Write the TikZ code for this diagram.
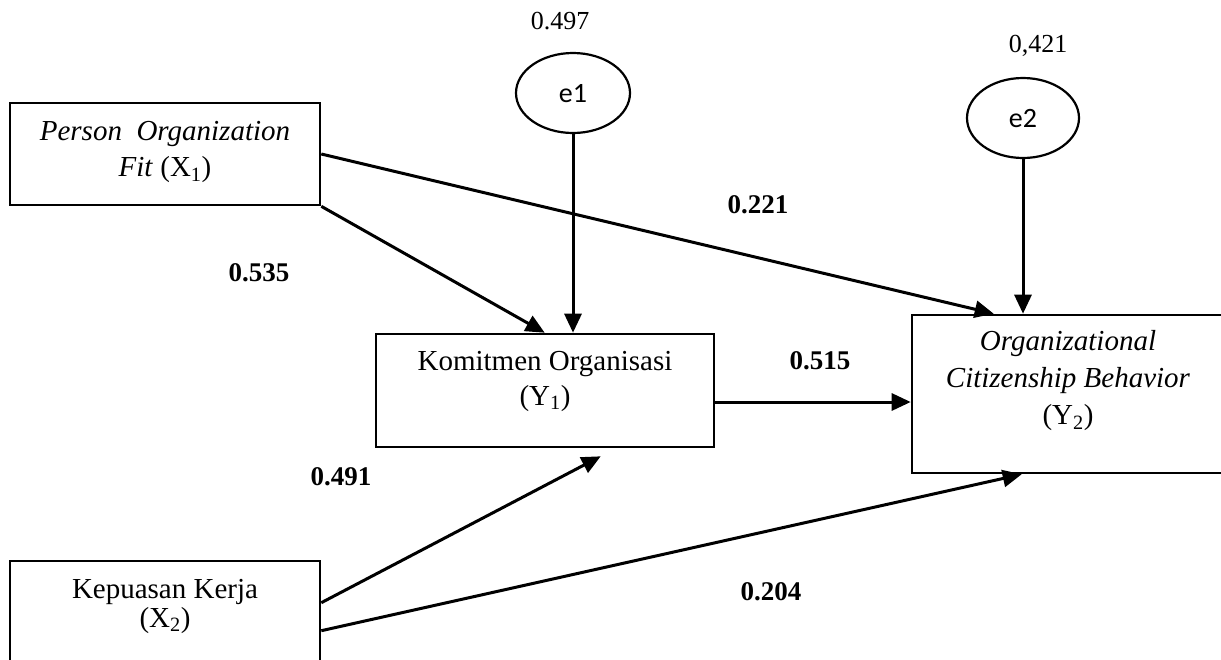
\documentclass[tikz,border=0pt]{standalone}
\usepackage{fontspec}
\setmainfont{Liberation Serif}
\newfontfamily\calibri{Carlito}
\usetikzlibrary{arrows.meta,shapes.geometric}
\begin{document}
\begin{tikzpicture}[x=1pt,y=-1pt,
  box/.style={draw,line width=2.6pt,rectangle,inner sep=0pt},
  err/.style={draw,line width=2.2pt,ellipse,inner sep=0pt},
  txt/.style={align=center,inner sep=0pt,font=\fontsize{29}{36}\selectfont},
  coef/.style={inner sep=0pt,font=\fontsize{27}{30}\selectfont\bfseries},
  val/.style={inner sep=0pt,font=\fontsize{26}{30}\selectfont},
  path/.style={line width=3pt,-{Triangle[length=19pt,width=17pt]}}]
\useasboundingbox (0,0) rectangle (1221,659);
\clip (0,0) rectangle (1221,659);
% boxes
\node[box,minimum width=310,minimum height=102] (x1) at (165,154) {};
\node[txt] (x1t) at (165,152) {\itshape Person\ \ Organization\\\textit{Fit} (X\textsubscript{1})};
\node[box,minimum width=338,minimum height=113] (y1) at (545,390.5) {};
\node[txt,font=\fontsize{29}{35}\selectfont] (y1t) at (545,381) {Komitmen Organisasi\\(Y\textsubscript{1})};
\node[box,minimum width=313,minimum height=158] (y2) at (1068.5,394) {};
\node[txt,font=\fontsize{29}{37}\selectfont] (y2t) at (1068,381) {\textit{Organizational}\\\textit{Citizenship Behavior}\\(Y\textsubscript{2})};
\node[box,minimum width=310,minimum height=110] (x2) at (165,616) {};
\node[txt,font=\fontsize{29}{29}\selectfont] (x2t) at (165,606) {Kepuasan Kerja\\(X\textsubscript{2})};
% error terms
\node[err,minimum width=114,minimum height=80] (e1) at (573,93) {};
\node[inner sep=0pt,font=\calibri\fontsize{28}{30}\selectfont] (e1t) at (573,94) {e1};
\node[err,minimum width=112,minimum height=80] (e2) at (1023,118) {};
\node[inner sep=0pt,font=\calibri\fontsize{28}{30}\selectfont] (e2t) at (1023,119) {e2};
\node[val] (v1) at (560,21) {0.497};
\node[val] (v2) at (1038,46) {0,421};
% coefficient labels
\node[coef] (c1) at (259,273) {0.535};
\node[coef] (c2) at (758,205) {0.221};
\node[coef] (c3) at (820,361) {0.515};
\node[coef] (c4) at (341,477) {0.491};
\node[coef] (c5) at (771,592) {0.204};
% paths
\draw[path] (x1.south east) -- ([xshift=170pt]y1.north west);
\draw[path] (e1.south) -- (e1.south |- y1.north);
\draw[path] (x1.east) -- ([xshift=83pt]y2.north west);
\draw[path] (e2.south) -- (e2.south |- y2.north);
\draw[path] ([yshift=-11.5pt]y1.east) -- ([yshift=-11.5pt]y1.east -| y2.west);
\draw[path] ([yshift=-43pt]x2.north east) -- ([xshift=226pt,yshift=-8pt]y1.south west);
\draw[path] ([yshift=-71pt]x2.north east) -- ([xshift=111pt]y2.south west);
\end{tikzpicture}
\end{document}
